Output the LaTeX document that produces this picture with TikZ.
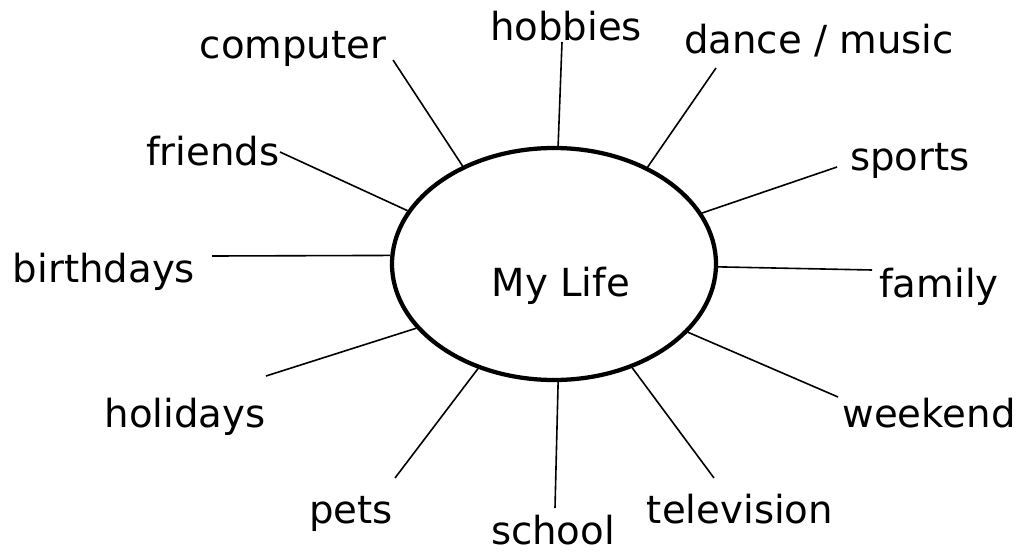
\documentclass[tikz,border=0pt]{standalone}
\usepackage{fontspec}
\setmainfont{DejaVu Sans}
\usetikzlibrary{shapes.geometric, positioning}
\definecolor{ink}{HTML}{000000}
\tikzset{
  hub/.style      = {ellipse, draw=ink, line width=3.2pt, fill=white,
                      minimum width=243pt, minimum height=174pt, inner sep=0pt},
  topic/.style    = {anchor=base, inner sep=0pt, text=ink,
                      font=\fontsize{29}{34}\selectfont},
  spoke/.style    = {draw=ink, line width=1.2pt},
}

\begin{document}
\begin{tikzpicture}[x=0.75pt, y=-0.75pt]
  \useasboundingbox (0,0) rectangle (1024,553);

  % centre
  \node[hub] (life) at (554,264) {};
  \node[topic] (lifetext) at (561,296) {My Life};

  % topics round the centre
  \node[topic] (hobbies)    at (566,40)  {hobbies};
  \node[topic] (computer)   at (293,58)  {computer};
  \node[topic] (dance)      at (819,53)  {dance / music};
  \node[topic] (friends)    at (213,165) {friends};
  \node[topic] (sports)     at (910,170) {sports};
  \node[topic] (birthdays)  at (104,282) {birthdays};
  \node[topic] (family)     at (939,297) {family};
  \node[topic] (holidays)   at (185,427) {holidays};
  \node[topic] (weekend)    at (929,427) {weekend};
  \node[topic] (pets)       at (351,523) {pets};
  \node[topic] (television) at (740,523) {television};
  \node[topic] (school)     at (553,544) {school};

  % free ends of the spokes
  \coordinate (hobbiesend)    at (562,42);
  \coordinate (computerend)   at (393,60);
  \coordinate (danceend)      at (716,68);
  \coordinate (friendsend)    at (280,152);
  \coordinate (sportsend)     at (837,167);
  \coordinate (birthdaysend)  at (212,256);
  \coordinate (familyend)     at (872,270);
  \coordinate (holidaysend)   at (266,376);
  \coordinate (weekendend)    at (838,397);
  \coordinate (petsend)       at (395,478);
  \coordinate (televisionend) at (714,478);
  \coordinate (schoolend)     at (555,508);

  \foreach \where/\ang in {hobbies/88, dance/46.5, sports/19.7, family/-1.8,
      weekend/-27.4, television/-53, school/-88, pets/-126.3, holidays/-155,
      birthdays/177.2, friends/160.5, computer/133.2}
    \draw[spoke] (life.\ang) -- (\where end);
\end{tikzpicture}
\end{document}
